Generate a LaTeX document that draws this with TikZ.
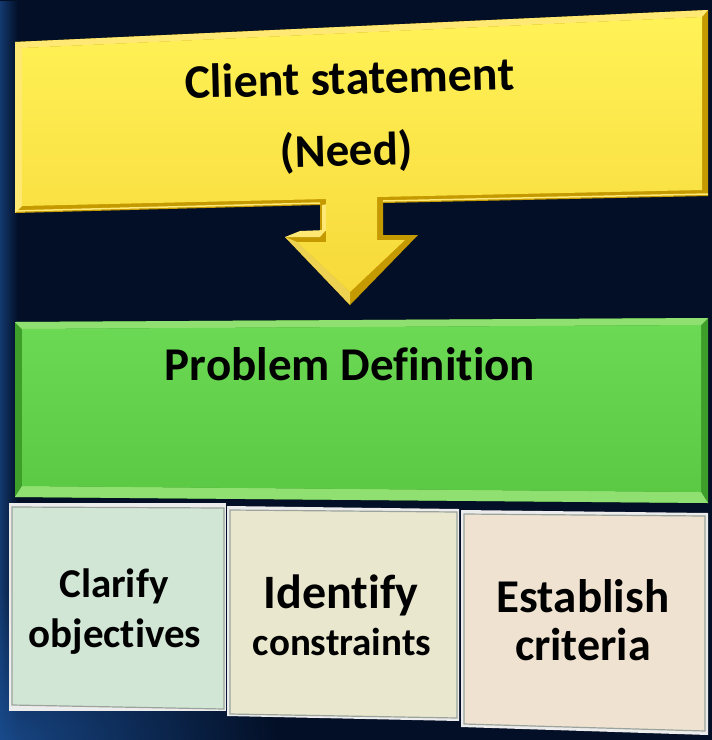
\documentclass[tikz,border=0pt]{standalone}
\usepackage{fontspec}
\setmainfont{Carlito}[Ligatures=NoCommon]
\usetikzlibrary{fadings}
\tikzfading[name=glowfade, inner color=transparent!0, outer color=transparent!100]
\definecolor{bg}{HTML}{030F26}
\definecolor{bgblue}{HTML}{1A4C8E}
\definecolor{golddark}{HTML}{C49A00}
\definecolor{goldlight}{HTML}{FFE873}
\definecolor{yelA}{HTML}{FFF257}
\definecolor{yelB}{HTML}{F7D93A}
\definecolor{greendark}{HTML}{3E9E2A}
\definecolor{greenlight}{HTML}{8FE070}
\definecolor{grA}{HTML}{6BD954}
\definecolor{grB}{HTML}{5CC944}
\definecolor{boxA}{HTML}{D2E6D6}
\definecolor{boxB}{HTML}{E9E8CE}
\definecolor{boxC}{HTML}{EFE2D0}
\definecolor{boxedge}{HTML}{9AA39C}
\tikzset{
  lbl/.style={text=black, inner sep=0pt, anchor=base},
  cellface/.style={draw=boxedge, line width=1.2pt},
}
\newcommand{\fsz}[1]{\bfseries\fontsize{#1}{#1}\selectfont}
\begin{document}
\begin{tikzpicture}[x=1pt,y=-1pt]
\useasboundingbox (0,0) rectangle (712,740);
% background
\fill[bg] (0,0) rectangle (712,740);
\fill[bgblue, opacity=0.7, path fading=east] (0,0) rectangle (18,740);
\fill[bgblue, opacity=0.9, path fading=glowfade] (0,740) ellipse [x radius=280, y radius=150];
% yellow box with arrow (bevel: outer dark, inner face)
\fill[golddark] (15,42) -- (708,10) -- (708,196) -- (383,203) -- (383,235) -- (418,235)
  -- (350,305) -- (285,237) -- (320,237) -- (320,205) -- (15,213) -- cycle;
\fill[goldlight] (15,42) -- (708,10) -- (702,17) -- (22,48) -- cycle;
\fill[goldlight] (15,42) -- (22,48) -- (22,206) -- (15,213) -- cycle;
\fill[goldlight] (285,237) -- (320,237) -- (326,230) -- (300,231) -- cycle;
\fill[goldlight] (322,205) -- (322,232) -- (328,230) -- (328,204) -- cycle;
\fill[goldlight!70!golddark] (285,237) -- (350,305) -- (350,292) -- (297,242) -- cycle;
\draw[goldlight, line width=1.5pt] (383,201) -- (708,194);
\draw[goldlight, line width=1.5pt] (15,211) -- (320,203);
\shade[top color=yelA, bottom color=yelB] (22,48) -- (702,17) -- (702,190) -- (377,197)
  -- (377,240) -- (405,240) -- (350,292) -- (297,242) -- (326,242) -- (326,199)
  -- (22,206) -- cycle;
\node[lbl, font=\fsz{48}, rotate=1.5] (client) at (350,94) {Client statement};
\node[lbl, font=\fsz{47}, rotate=1.5] (need) at (347,166) {(Need)};
% green box
\fill[greendark] (15,322) -- (708,318) -- (708,503) -- (15,497) -- cycle;
\fill[greenlight] (15,322) -- (708,318) -- (701,325) -- (22,329) -- cycle;
\fill[greenlight] (22,486) -- (701,492) -- (708,503) -- (15,497) -- cycle;
\shade[top color=grA, bottom color=grB] (22,329) -- (701,325) -- (701,492) -- (22,486) -- cycle;
\node[lbl, font=\fsz{47}] (pd) at (350,380) {Problem Definition};
% bottom cells
\fill[white!85!gray] (9,503) rectangle (226,711);
\filldraw[cellface, fill=boxA] (12,507) -- (224,508) -- (224,709) -- (12,705) -- cycle;
\fill[white!85!gray] (227,506) -- (459,509) -- (459,721) -- (227,716) -- cycle;
\filldraw[cellface, fill=boxB] (230,510) -- (457,512) -- (457,718) -- (230,714) -- cycle;
\fill[white!85!gray] (461,510) -- (708,513) -- (708,735) -- (461,727) -- cycle;
\filldraw[cellface, fill=boxC] (464,514) -- (705,516) -- (705,731) -- (464,724) -- cycle;
\node[lbl, font=\fsz{41}] (clar1) at (114,597) {Clarify};
\node[lbl, font=\fsz{41}] (clar2) at (115,647) {objectives};
\node[lbl, font=\fsz{48}] (ident1) at (341,608) {Identify};
\node[lbl, font=\fsz{39}] (ident2) at (342,655) {constraints};
\node[lbl, font=\fsz{47}] (estab1) at (583,612) {Establish};
\node[lbl, font=\fsz{46}] (estab2) at (583,660) {criteria};
\end{tikzpicture}
\end{document}
